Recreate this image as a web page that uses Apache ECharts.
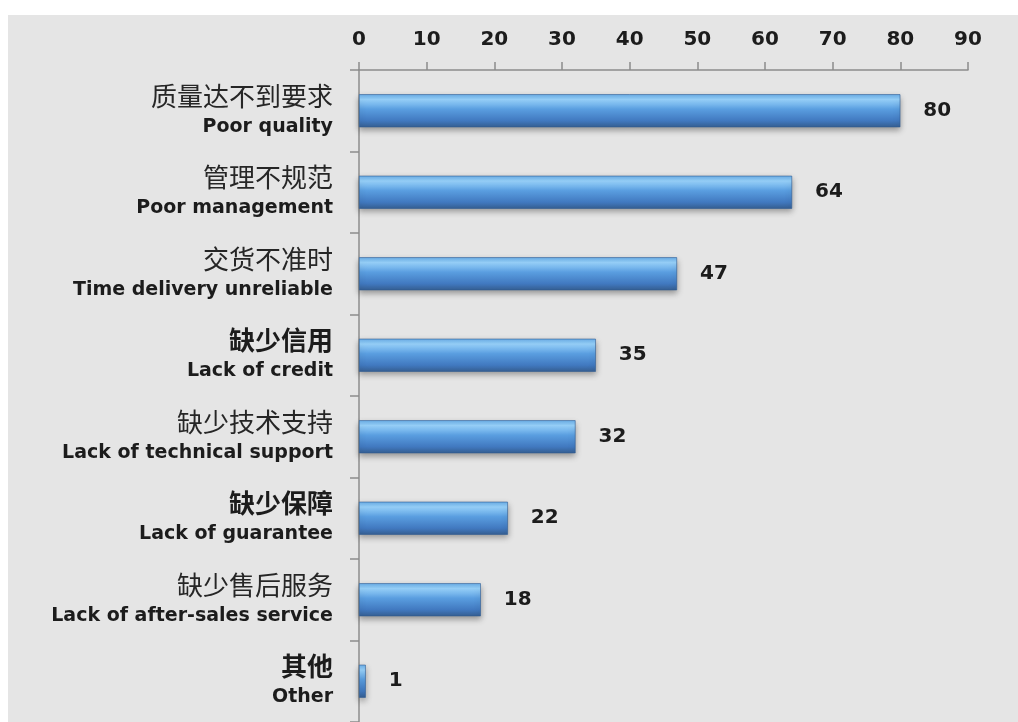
<!DOCTYPE html>
<html>
<head>
<meta charset="utf-8">
<script src="https://cdn.jsdelivr.net/npm/echarts@6/dist/echarts.min.js"></script>
<style>
  html, body { margin: 0; padding: 0; background: #ffffff; }
  #chart { width: 1018px; height: 722px; }
</style>
</head>
<body>
<div id="chart"></div>
<script>
// Reasons cited, top to bottom
const categoriesCn = ['质量达不到要求', '管理不规范', '交货不准时', '缺少信用', '缺少技术支持', '缺少保障', '缺少售后服务', '其他'];
const categoriesEn = ['Poor quality', 'Poor management', 'Time delivery unreliable', 'Lack of credit', 'Lack of technical support', 'Lack of guarantee', 'Lack of after-sales service', 'Other'];
const counts = [80, 64, 47, 35, 32, 22, 18, 1];
const boldCn = ['缺少信用', '缺少保障', '其他'];
const xTicks = [0, 10, 20, 30, 40, 50, 60, 70, 80, 90];

const chart = echarts.init(document.getElementById('chart'));
const latin = '"DejaVu Sans", "Noto Sans", sans-serif';
const cjk = '"Noto Sans CJK SC", "Noto Sans", sans-serif';

const barFill = new echarts.graphic.LinearGradient(0, 0, 0, 1, [
  { offset: 0, color: '#6aaee8' },
  { offset: 0.16, color: '#98d2fb' },
  { offset: 0.45, color: '#5a9ee0' },
  { offset: 0.8, color: '#4179c0' },
  { offset: 1, color: '#365f92' }
]);

chart.setOption({
  animation: false,
  graphic: [{
    type: 'rect',
    z: -10,
    shape: { x: 8, y: 15, width: 1010, height: 707 },
    style: { fill: '#e5e5e5' }
  }],
  grid: { left: 359, top: 70, width: 609, height: 660, containLabel: false },
  xAxis: {
    type: 'value',
    position: 'top',
    min: xTicks[0],
    max: xTicks[xTicks.length - 1],
    interval: 10,
    axisLine: { show: true, lineStyle: { color: '#8c8c8c', width: 1.5 } },
    axisTick: { show: true, length: 8, lineStyle: { color: '#8c8c8c', width: 1.5 } },
    splitLine: { show: false },
    axisLabel: {
      margin: 20,
      color: '#1c1c1c',
      fontFamily: latin,
      fontWeight: 'bold',
      fontSize: 20
    }
  },
  yAxis: {
    type: 'category',
    inverse: true,
    data: categoriesCn,
    axisLine: { show: true, lineStyle: { color: '#8c8c8c', width: 1.5 } },
    axisTick: { show: true, length: 9, lineStyle: { color: '#8c8c8c', width: 1.5 } },
    axisLabel: {
      margin: 26,
      align: 'right',
      formatter: function (value, idx) {
        const key = boldCn.indexOf(value) >= 0 ? 'cnb' : 'cn';
        return '{' + key + '|' + value + '}\n{en|' + categoriesEn[idx] + '}';
      },
      rich: {
        cn: { fontFamily: cjk, fontSize: 26, color: '#262626', lineHeight: 32, align: 'right' },
        cnb: { fontFamily: cjk, fontSize: 26, fontWeight: 'bold', color: '#1c1c1c', lineHeight: 32, align: 'right' },
        en: { fontFamily: latin, fontSize: 19, fontWeight: 'bold', color: '#1c1c1c', lineHeight: 30, align: 'right' }
      }
    }
  },
  series: [{
    type: 'bar',
    data: counts,
    barWidth: 33,
    itemStyle: {
      color: barFill,
      borderColor: '#2f5d93',
      borderWidth: 0.6,
      shadowColor: 'rgba(0,0,0,0.35)',
      shadowBlur: 6,
      shadowOffsetY: 3
    },
    label: {
      show: true,
      position: 'right',
      distance: 23,
      color: '#1c1c1c',
      fontFamily: latin,
      fontWeight: 'bold',
      fontSize: 20
    }
  }]
});
</script>
</body>
</html>
